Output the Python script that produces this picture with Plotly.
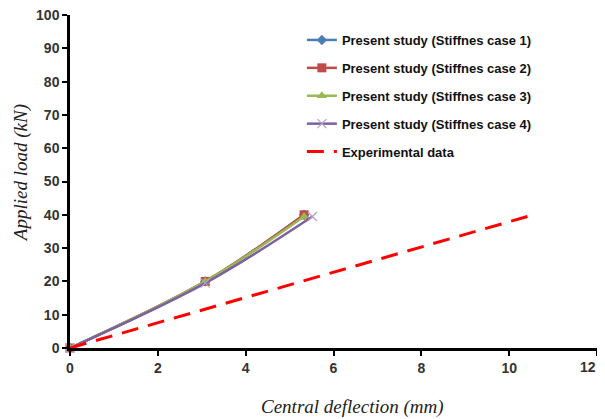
import plotly.graph_objects as go

case_x = [0, 3.08, 5.33]
case1_y = [0, 20, 40]
case2_y = [0, 20, 40]
case3_y = [0, 20, 39.5]
case4_x = [0, 3.08, 5.52]
case4_y = [0, 19.5, 39.5]
exp_x = [0, 10.55]
exp_y = [0, 40]

x_ticks = [0, 2, 4, 6, 8, 10, 12]
x_tick_labels = ["0", "2", "4", "6", "8", "10", ""]
last_x_label = "12"
y_ticks = [0, 10, 20, 30, 40, 50, 60, 70, 80, 90, 100]
x_title = "Central deflection (mm)"
y_title = "Applied load (kN)"

fig = go.Figure()
fig.add_trace(go.Scatter(x=case_x, y=case1_y, mode="lines+markers", name="Present study (Stiffnes case 1)",
                         legendgroup="a",
                         line=dict(color="#4a7ebb", width=2.5, shape="spline"),
                         marker=dict(symbol="diamond", size=8, color="#4a7ebb")))
fig.add_trace(go.Scatter(x=case_x, y=case2_y, mode="lines+markers", name="Present study (Stiffnes case 2)",
                         legendgroup="b",
                         line=dict(color="#be4b48", width=2.5, shape="spline"),
                         marker=dict(symbol="square", size=9, color="#be4b48")))
fig.add_trace(go.Scatter(x=case_x, y=case3_y, mode="lines+markers", name="Present study (Stiffnes case 3)",
                         legendgroup="c",
                         line=dict(color="#98b954", width=2.5, shape="spline"),
                         marker=dict(symbol="triangle-up", size=9, color="#98b954")))
fig.add_trace(go.Scatter(x=case4_x, y=case4_y, mode="lines+markers", name="Present study (Stiffnes case 4)",
                         legendgroup="d",
                         line=dict(color="#7d60a0", width=2.5, shape="spline"),
                         marker=dict(symbol="x-thin", size=9, line=dict(color="#b3a2c7", width=1.2))))
fig.add_trace(go.Scatter(x=exp_x, y=exp_y, mode="lines", name="Experimental data",
                         legendgroup="e",
                         line=dict(color="#ff0000", width=3, dash="17px,10px")))

fig.update_traces(cliponaxis=False)

title_font = dict(family="Liberation Serif, Times New Roman, serif", size=19, color="#222", style="italic")
tick_font = dict(family="Liberation Sans, Arial, sans-serif", size=14, color="#333", weight="bold")

fig.update_layout(
    width=597, height=411,
    margin=dict(l=62, r=8, t=7, b=71, autoexpand=False),
    paper_bgcolor="white", plot_bgcolor="white",
    font=dict(family="Liberation Sans, Arial, sans-serif", size=13, color="#222"),
    legend=dict(x=0.44, y=0.97, xanchor="left", yanchor="top",
                bgcolor="rgba(0,0,0,0)", tracegroupgap=8,
                font=dict(family="Liberation Sans, Arial, sans-serif", size=13, color="#111", weight="bold"),
                itemwidth=30),
    xaxis=dict(range=[0, 12], tickvals=x_ticks, ticktext=x_tick_labels,
               showgrid=False, zeroline=False, automargin=False,
               showline=True, linecolor="black", linewidth=2.5, ticklabeloverflow="allow",
               ticks="outside", ticklen=5, tickwidth=2, tickcolor="black",
               tickfont=tick_font),
    yaxis=dict(range=[0, 100], tickvals=y_ticks, showgrid=False, zeroline=False, automargin=False,
               showline=True, linecolor="black", linewidth=2.5, ticklabeloverflow="allow",
               ticks="outside", ticklen=5, tickwidth=2, tickcolor="black",
               tickfont=tick_font),
    annotations=[
        dict(text=x_title, xref="paper", yref="paper", x=0.537, y=-0.177,
             xanchor="center", yanchor="middle", showarrow=False, font=title_font),
        dict(text=y_title, xref="paper", yref="paper", x=-0.093, y=0.525,
             xanchor="center", yanchor="middle", textangle=-90, showarrow=False, font=title_font),
        dict(text=last_x_label, xref="x", yref="paper", x=x_ticks[-1], y=0, yshift=-19,
             xanchor="right", yanchor="middle", xshift=1, showarrow=False, font=tick_font),
    ],
)

fig.write_html("out.html")
